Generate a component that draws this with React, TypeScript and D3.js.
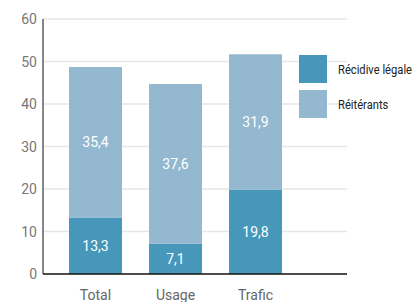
import * as d3 from "d3";
import { useEffect, useRef } from "react";

const categories = ["Total", "Usage", "Trafic"];
const recidive = [13.3, 7.1, 19.8];
const reiterants = [35.4, 37.6, 31.9];
const seriesNames = ["Récidive légale", "Réitérants"];
const yTicks = [0, 10, 20, 30, 40, 50, 60];

const colors = ["#4697b9", "#93b8cf"];
const font = "Roboto, sans-serif";
const fmt = (v: number) => v.toFixed(1).replace(".", ",");

export default function App() {
  const ref = useRef<SVGSVGElement>(null);

  useEffect(() => {
    const svg = d3.select(ref.current!);
    svg.selectAll("*").remove();
    const left = 43,
      right = 347,
      top = 19,
      bottom = 274;

    const x = d3
      .scaleBand()
      .domain(categories)
      .range([69, 282])
      .paddingInner(0.3375)
      .paddingOuter(0);

    const y = d3.scaleLinear().domain([0, 60]).range([bottom, top]);

    // grid
    svg
      .append("g")
      .selectAll("line")
      .data(yTicks.slice(1))
      .join("line")
      .attr("x1", left)
      .attr("x2", right)
      .attr("y1", (d) => y(d))
      .attr("y2", (d) => y(d))
      .attr("stroke", "#e6e6e6")
      .attr("stroke-width", 1.5);

    // tick labels
    svg
      .append("g")
      .selectAll("text")
      .data(yTicks)
      .join("text")
      .attr("x", 37)
      .attr("y", (d) => y(d) + 5)
      .attr("text-anchor", "end")
      .attr("font-family", font)
      .attr("font-size", 14)
      .attr("fill", "#777")
      .text((d) => d);

    const stacked = categories.map((c, i) => ({
      c,
      segs: [
        { y0: 0, y1: recidive[i], v: recidive[i], k: 0 },
        { y0: recidive[i], y1: recidive[i] + reiterants[i], v: reiterants[i], k: 1 },
      ],
    }));

    const g = svg
      .append("g")
      .selectAll("g")
      .data(stacked)
      .join("g")
      .attr("transform", (d) => `translate(${x(d.c)},0)`);

    g.selectAll("rect")
      .data((d) => d.segs)
      .join("rect")
      .attr("x", 0)
      .attr("width", x.bandwidth())
      .attr("y", (d) => y(d.y1))
      .attr("height", (d) => y(d.y0) - y(d.y1))
      .attr("fill", (d) => colors[d.k]);

    g.selectAll("text")
      .data((d) => d.segs)
      .join("text")
      .attr("x", x.bandwidth() / 2)
      .attr("y", (d) => y((d.y0 + d.y1) / 2) + 5)
      .attr("text-anchor", "middle")
      .attr("font-family", font)
      .attr("font-size", 14)
      .attr("fill", "#fff")
      .text((d) => fmt(d.v));

    // axes lines
    svg
      .append("line")
      .attr("x1", left)
      .attr("x2", left)
      .attr("y1", top)
      .attr("y2", bottom)
      .attr("stroke", "#111")
      .attr("stroke-width", 1);
    svg
      .append("line")
      .attr("x1", left)
      .attr("x2", right)
      .attr("y1", bottom)
      .attr("y2", bottom)
      .attr("stroke", "#111")
      .attr("stroke-width", 1.5);

    // x labels
    svg
      .append("g")
      .selectAll("text")
      .data(categories)
      .join("text")
      .attr("x", (d) => x(d)! + x.bandwidth() / 2)
      .attr("y", 300)
      .attr("text-anchor", "middle")
      .attr("font-family", font)
      .attr("font-size", 14)
      .attr("fill", "#666")
      .text((d) => d);

    // legend (narrowed to mimic the condensed face)
    const lg = svg
      .append("g")
      .selectAll("g")
      .data(seriesNames)
      .join("g")
      .attr("transform", (_, i) => `translate(299,${55 + i * 35})`);
    lg.append("rect")
      .attr("width", 28)
      .attr("height", 28)
      .attr("fill", (_, i) => colors[i]);
    lg.append("text")
      .attr("transform", "translate(39,19) scale(0.86,1)")
      .attr("font-family", font)
      .attr("font-size", 13)
      .attr("fill", "#222")
      .text((d) => d);
  }, []);

  return (
    <svg
      ref={ref}
      width={420}
      height={302}
      style={{ position: "absolute", left: 0, top: 0 }}
    />
  );
}
